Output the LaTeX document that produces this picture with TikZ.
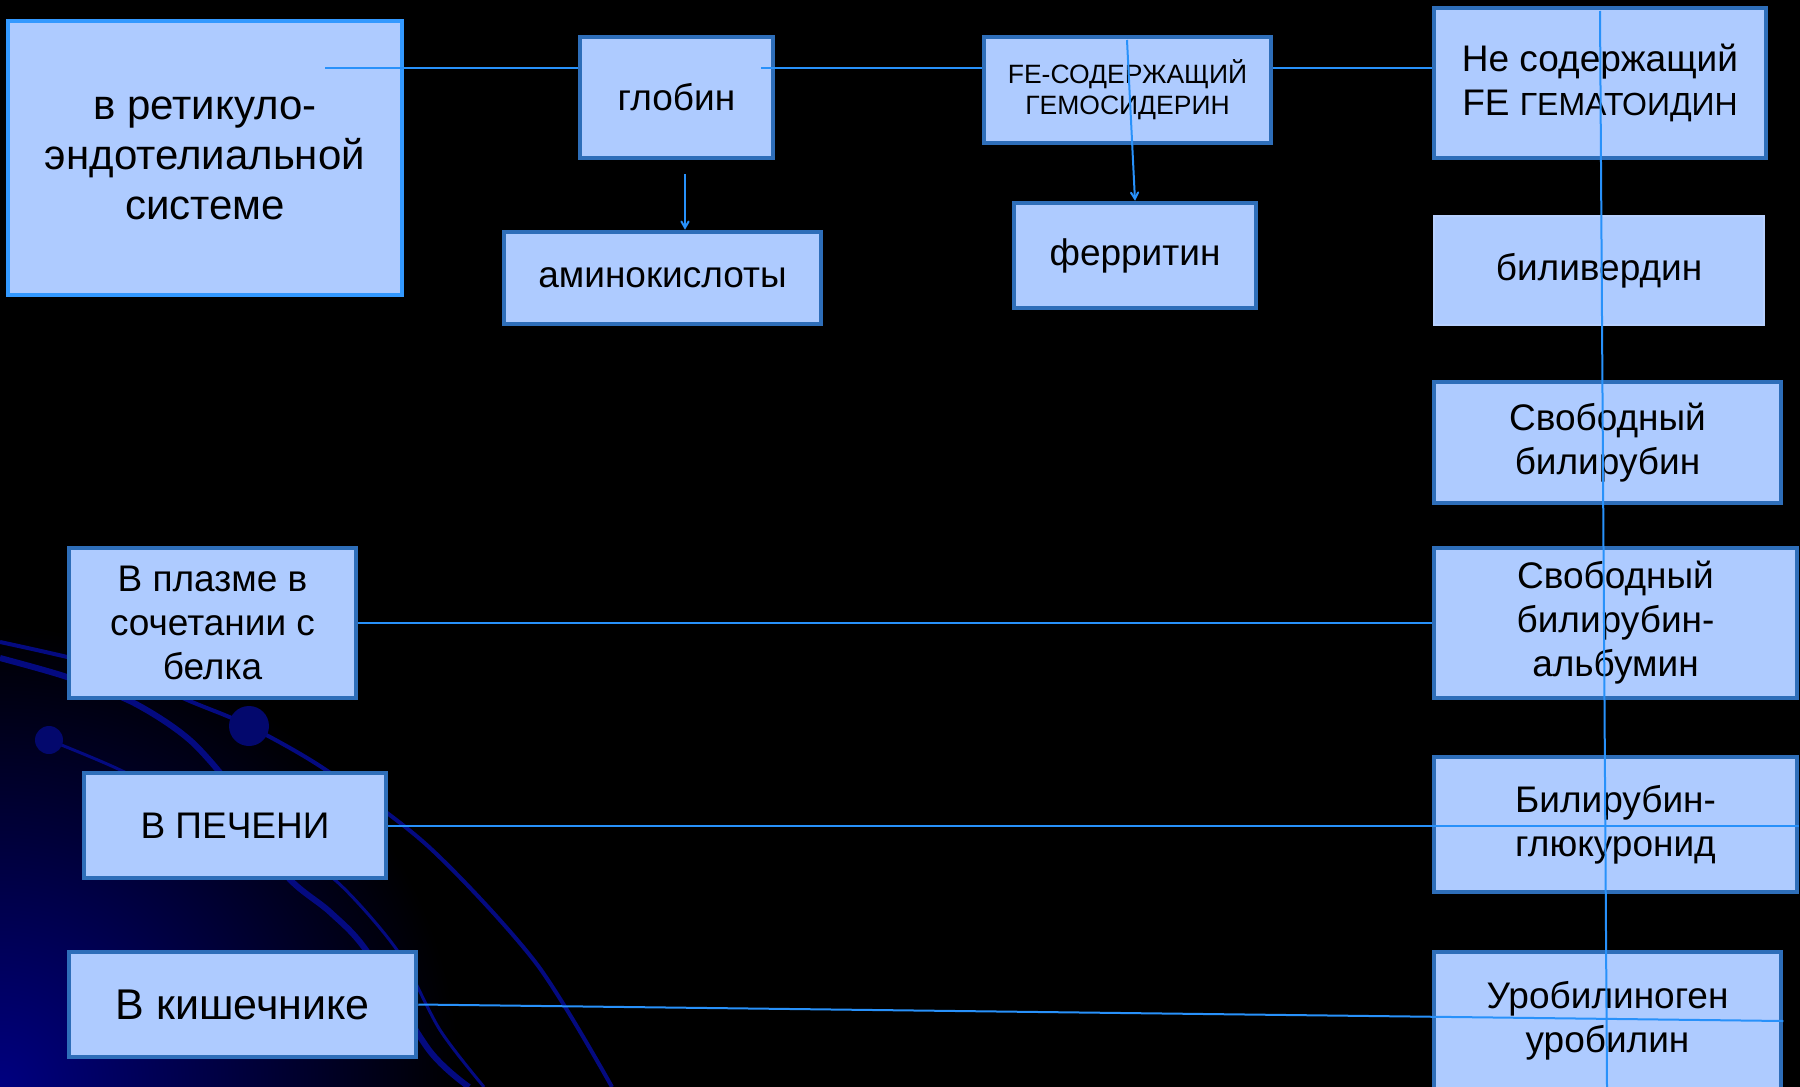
\documentclass[tikz,border=0pt]{standalone}
\usepackage{fontspec}
\setmainfont{Liberation Sans}
\usetikzlibrary{arrows}
\usetikzlibrary{calc}
\definecolor{boxfill}{RGB}{174,203,255}
\definecolor{boxline}{RGB}{46,110,185}
\definecolor{brightline}{RGB}{51,153,255}
\definecolor{linkblue}{RGB}{40,145,250}
\definecolor{arcblue}{RGB}{4,10,128}
\definecolor{navy}{RGB}{0,0,128}
\tikzset{
    blk/.style = {rectangle, align=center, inner sep=0pt, text centered,
        fill=boxfill, draw=boxline, line width=4.5pt,
        font=\fontsize{37}{44}\selectfont},% ordinary box
    blk_br/.style = {blk, draw=brightline},% box with bright frame
    blk_pl/.style = {blk, draw=boxfill!88!white, line width=2pt},% box with no dark frame
    link/.style = {draw=linkblue, line width=2pt},
    deco/.style = {draw=arcblue, line width=4pt},
}

\begin{document}
\begin{tikzpicture}[x=1pt, y=-1pt, >=angle 60]
\useasboundingbox (0,0) rectangle (1800,1087);
\fill[black] (0,0) rectangle (1800,1087);
% background of the slide
\begin{scope}
\clip (0,0) rectangle (1800,1087);
\shade[inner color=navy, outer color=black] (0,1087) circle (460);
\draw[deco] plot[smooth] coordinates {(0,642) (110,668) (192,702) (249,726) (326,770) (429,847) (536,963) (612,1087)};
\draw[deco, line width=6pt] plot[smooth] coordinates {(0,658) (67,677) (134,703) (192,742) (245,805) (286,875) (330,912) (366,950) (429,1050) (469,1087)};
\draw[deco, line width=3pt] plot[smooth] coordinates {(49,740) (116,768) (200,810) (290,860) (335,880) (397,950) (440,1030) (484,1087)};
\fill[arcblue!85!black] (249,726) circle (20);
\fill[arcblue!85!black] (49,740) circle (14);
\end{scope}

% boxes
\node[blk_br, minimum width=394pt, minimum height=274pt, font=\fontsize{42}{50}\selectfont] (res) at (205,158) {в ретикуло-\\эндотелиальной\\системе};
\node[blk, minimum width=193pt, minimum height=121pt] (glob) at (676.5,97.5) {глобин};
\node[blk, minimum width=317pt, minimum height=92pt] (amino) at (662.5,278) {аминокислоты};
\node[blk, minimum width=287pt, minimum height=106pt, font=\fontsize{26.5}{31}\selectfont] (gemo) at (1127.5,90) {FE-СОДЕРЖАЩИЙ\\ГЕМОСИДЕРИН};
\node[blk, minimum width=242pt, minimum height=105pt] (ferr) at (1135,255.5) {ферритин};
\node[blk, minimum width=332pt, minimum height=150pt] (hemat) at (1600,83) {Не содержащий\\FE {\fontsize{32}{44}\selectfont ГЕМАТОИДИН}};
\node[blk_pl, minimum width=330pt, minimum height=109pt] (biliv) at (1599,270.5) {биливердин};
\node[blk, minimum width=347pt, minimum height=121pt] (free) at (1607.5,442.5) {Свободный\\билирубин};
\node[blk, minimum width=363pt, minimum height=150pt] (alb) at (1615.5,623) {Свободный\\билирубин-\\альбумин};
\node[blk, minimum width=363pt, minimum height=135pt] (gluc) at (1615.5,824.5) {Билирубин-\\глюкуронид};
\node[blk, minimum width=347pt, minimum height=138pt] (uro) at (1607.5,1021) {Уробилиноген\\уробилин};
\node[blk, minimum width=287pt, minimum height=150pt] (plasma) at (212.5,623) {В плазме в\\сочетании с\\белка};
\node[blk, minimum width=302pt, minimum height=105pt] (liver) at (235,825.5) {В ПЕЧЕНИ};
\node[blk, minimum width=347pt, minimum height=105pt, font=\fontsize{43}{50}\selectfont] (gut) at (242.5,1004.5) {В кишечнике};

% free ends of the connectors
\coordinate (res_in) at (325,68);
\coordinate (glob_in) at (761,68);
\coordinate (glob_dn) at (685,174);
\coordinate (gemo_in) at (1127,40);
\coordinate (v_top) at (1600,11);
\coordinate (v_bot) at (1607,1087);

% connectors
\draw[link] (res_in) -- (res_in -| glob.west);
\draw[link] (glob_in) -- (glob_in -| gemo.west);
\draw[link] (gemo.east |- glob_in) -- (hemat.west |- glob_in);
\draw[link, ->] (glob_dn) -- (glob_dn |- amino.north);
\draw[link, ->] (gemo_in) -- (ferr.north);
\draw[link] (v_top) -- (v_bot);
\draw[link] (plasma.east) -- (plasma.east -| alb.west);
\draw[link] (liver.east) -- (liver.east -| gluc.east);
\draw[link] (gut.east) -- (uro.east);
\end{tikzpicture}
\end{document}
